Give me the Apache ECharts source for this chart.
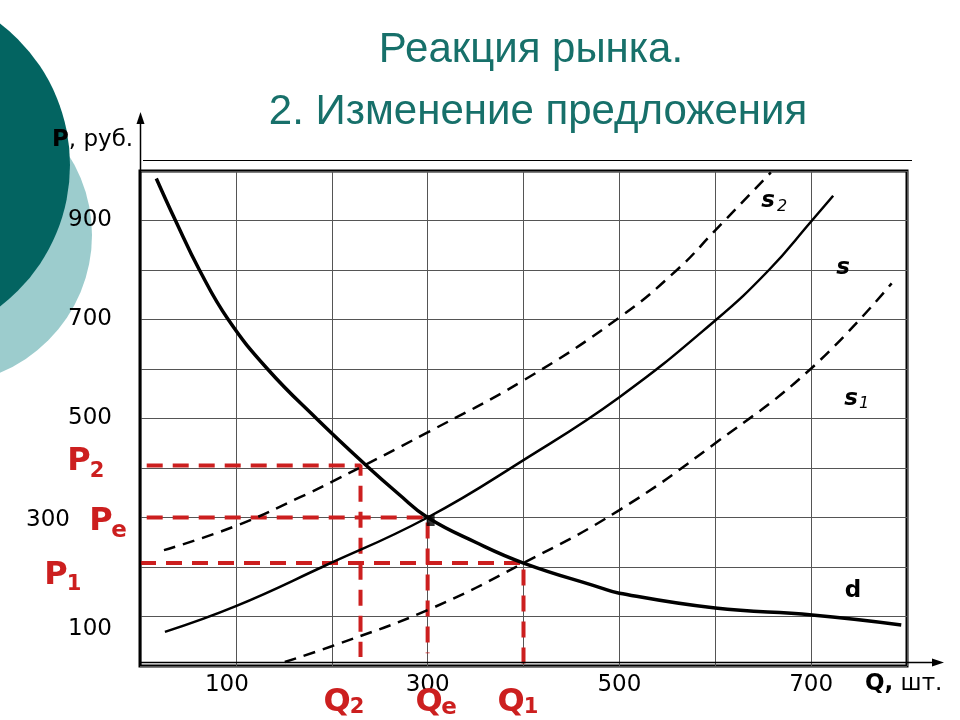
<!DOCTYPE html>
<html><head><meta charset="utf-8">
<script src="https://cdn.jsdelivr.net/npm/echarts@6/dist/echarts.min.js"></script>
<style>html,body{margin:0;padding:0;background:#fff}#c{width:960px;height:720px}</style>
</head><body><div id="c"></div>
<script>
// Demand curve d
const demandQ = [17, 37, 62, 92, 133, 184, 236, 270, 300, 350, 400, 479, 500, 600, 701, 794];
const demandP = [985, 900, 800, 700, 600, 500, 405, 347, 300, 250, 208, 159, 147, 117, 103, 83];
// Supply curve s
const supplyQ = [26, 100, 190, 300, 400, 500, 600, 656, 700, 723];
const supplyP = [69, 121, 200, 300, 416, 543, 698, 800, 898, 950];
// Supply curve s1 (shift right)
const supply1Q = [151, 200, 300, 400, 500, 600, 700, 784];
const supply1P = [8, 40, 113, 208, 315, 450, 601, 773];
// Supply curve s2 (shift left)
const supply2Q = [25, 100, 167, 200, 300, 400, 500, 560, 600, 658];
const supply2P = [234, 283, 341, 372, 472, 577, 704, 800, 880, 997];
// Equilibria
const eqQ = [230, 300, 400];   // Q2, Qe, Q1
const eqP = [405, 300, 208];   // P2, Pe, P1
const guideStartQ = [7, 7, 0];
const guideEndP = [18, 26, 2];
// Axis tick labels
const xTickLabels = [100, 300, 500, 700];
const yTickLabels = [100, 300, 500, 700, 900];

const zip = (a, b) => a.map((v, i) => [v, b[i]]);
const red = '#cc1f1f';
const teal = '#17706a';

const chart = echarts.init(document.getElementById('c'), null, {renderer: 'canvas'});

const guideSeries = eqQ.map((q, i) => ({
  type: 'line', silent: true, showSymbol: false, z: 3,
  data: [[guideStartQ[i], eqP[i]], [q, eqP[i]], [q, guideEndP[i]]],
  lineStyle: {color: red, width: 4, type: [16, 10]}
}));

const txt = (x, y, text, font, color, align) => ({
  type: 'text', x: x, y: y, z: 100,
  style: {text: text, font: font, fill: color || '#000', textAlign: align || 'center', textVerticalAlign: 'middle'}
});

chart.setOption({
  animation: false,
  backgroundColor: '#fff',
  grid: {left: 140, right: 53, top: 171, bottom: 54, show: true, borderColor: '#000', borderWidth: 3, backgroundColor: 'transparent'},
  xAxis: {
    type: 'value', min: 0, max: 800, interval: 100,
    axisLine: {show: false}, axisTick: {show: false},
    splitLine: {lineStyle: {color: '#555', width: 1}},
    axisLabel: {
      margin: 8, fontSize: 23, fontFamily: 'DejaVu Sans', color: '#000',
      formatter: v => xTickLabels.includes(v) ? (v === 100 ? '{a|' + v + '}' : '{n|' + v + '}') : '',
      rich: {
        n: {fontSize: 23, fontFamily: 'DejaVu Sans', color: '#000'},
        a: {fontSize: 23, fontFamily: 'DejaVu Sans', color: '#000', padding: [0, 18, 0, 0]}
      }
    }
  },
  yAxis: {
    type: 'value', min: 0, max: 1000, interval: 100,
    axisLine: {show: false}, axisTick: {show: false},
    splitLine: {lineStyle: {color: '#555', width: 1}},
    axisLabel: {
      margin: 28, fontSize: 23, fontFamily: 'DejaVu Sans', color: '#000',
      formatter: v => {
        if (!yTickLabels.includes(v)) return '';
        if (v === 300) return '{s|' + v + '}';
        if (v === 100) return '{d|' + v + '}';
        return '{n|' + v + '}';
      },
      rich: {
        n: {fontSize: 23, fontFamily: 'DejaVu Sans', color: '#000'},
        s: {fontSize: 23, fontFamily: 'DejaVu Sans', color: '#000', padding: [6, 42, 0, 0]},
        d: {fontSize: 23, fontFamily: 'DejaVu Sans', color: '#000', padding: [26, 0, 0, 0]}
      }
    }
  },
  series: [
    {type: 'line', name: 'd', data: zip(demandQ, demandP), smooth: 0.45, showSymbol: false, z: 5,
     lineStyle: {color: '#000', width: 3.5}},
    {type: 'line', name: 's', data: zip(supplyQ, supplyP), smooth: 0.45, showSymbol: false, z: 4,
     lineStyle: {color: '#000', width: 2.5}},
    {type: 'line', name: 's1', data: zip(supply1Q, supply1P), smooth: 0.45, showSymbol: false, z: 4,
     lineStyle: {color: '#000', width: 2.5, type: [12, 8]}},
    {type: 'line', name: 's2', data: zip(supply2Q, supply2P), smooth: 0.45, showSymbol: false, z: 4,
     lineStyle: {color: '#000', width: 2.5, type: [12, 8]}},
    ...guideSeries,
    {type: 'scatter', data: [[eqQ[1], eqP[1]]], symbol: 'rect', symbolSize: [8, 11], symbolOffset: [3, 3],
     itemStyle: {color: '#000'}, z: 10, silent: true}
  ],
  graphic: {elements: [
    {type: 'circle', z: -10, shape: {cx: -57, cy: 235, r: 149}, style: {fill: '#9ccccd'}},
    {type: 'circle', z: -9, shape: {cx: -108, cy: 165, r: 178}, style: {fill: '#036461'}},
    txt(531, 50, 'Реакция рынка.', '42px "Liberation Sans"', teal),
    txt(538, 112, '2. Изменение предложения', '42px "Liberation Sans"', teal),
    // axis arrows and top rule
    {type: 'line', z: 100, shape: {x1: 140.5, y1: 666, x2: 140.5, y2: 120}, style: {stroke: '#000', lineWidth: 1.5}},
    {type: 'polygon', z: 100, shape: {points: [[140.5, 112], [136.5, 124], [144.5, 124]]}, style: {fill: '#000'}},
    {type: 'line', z: 100, shape: {x1: 140, y1: 662.5, x2: 934, y2: 662.5}, style: {stroke: '#000', lineWidth: 1.5}},
    {type: 'polygon', z: 100, shape: {points: [[944, 662.5], [932, 658.5], [932, 666.5]]}, style: {fill: '#000'}},
    {type: 'line', z: 100, shape: {x1: 143, y1: 160.5, x2: 912, y2: 160.5}, style: {stroke: '#000', lineWidth: 1.2}},
    // axis titles
    {type: 'text', x: 52, y: 140, z: 100, style: {
      text: '{b|P}{n|, руб.}', textAlign: 'left', textVerticalAlign: 'middle',
      rich: {b: {font: 'bold 23px "DejaVu Sans"', fill: '#000'}, n: {font: '23px "DejaVu Sans"', fill: '#000'}}}},
    {type: 'text', x: 865, y: 684, z: 100, style: {
      text: '{b|Q,}{n| шт.}', textAlign: 'left', textVerticalAlign: 'middle',
      rich: {b: {font: 'bold 23px "DejaVu Sans"', fill: '#000'}, n: {font: '23px "DejaVu Sans"', fill: '#000'}}}},
    // curve labels
    txt(768, 201, 's', 'italic bold 23px "DejaVu Sans"'),
    txt(782, 207, '2', 'italic 16px "DejaVu Sans"'),
    txt(843, 268, 's', 'italic bold 23px "DejaVu Sans"'),
    txt(851, 399, 's', 'italic bold 23px "DejaVu Sans"'),
    txt(864, 404, '1', 'italic 16px "DejaVu Sans"'),
    txt(853, 591, 'd', 'bold 23px "DejaVu Sans"'),
    // price / quantity labels
    txt(79, 462, 'P', 'bold 32px "DejaVu Sans"', red),
    txt(97, 472, '2', 'bold 21px "DejaVu Sans"', red),
    txt(101, 522, 'P', 'bold 32px "DejaVu Sans"', red),
    txt(119, 531, 'e', 'bold 23px "DejaVu Sans"', red),
    txt(56, 576, 'P', 'bold 32px "DejaVu Sans"', red),
    txt(74, 585, '1', 'bold 21px "DejaVu Sans"', red),
    txt(337, 703, 'Q', 'bold 32px "DejaVu Sans"', red),
    txt(357, 708, '2', 'bold 21px "DejaVu Sans"', red),
    txt(429, 703, 'Q', 'bold 32px "DejaVu Sans"', red),
    txt(449, 708, 'e', 'bold 23px "DejaVu Sans"', red),
    txt(511, 703, 'Q', 'bold 32px "DejaVu Sans"', red),
    txt(531, 708, '1', 'bold 21px "DejaVu Sans"', red)
  ]}
});
</script>
</body></html>
